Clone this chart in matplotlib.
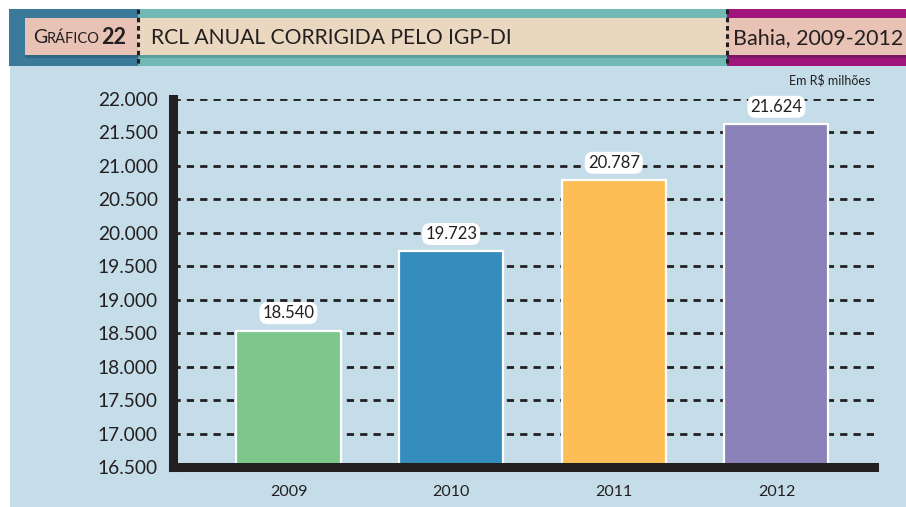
import matplotlib
matplotlib.use('Agg')
import matplotlib.pyplot as plt
from matplotlib.patches import Rectangle

years = ['2009', '2010', '2011', '2012']
values = [18540, 19723, 20787, 21624]
value_labels = ['18.540', '19.723', '20.787', '21.624']
bar_colors = ['#7dc78c', '#358dbd', '#fdbe55', '#8c82ba']
yticks = [16500, 17000, 17500, 18000, 18500, 19000, 19500, 20000, 20500, 21000, 21500, 22000]
ytick_labels = ['16.500', '17.000', '17.500', '18.000', '18.500', '19.000',
                '19.500', '20.000', '20.500', '21.000', '21.500', '22.000']

W, H = 906, 507
plt.rcParams['font.family'] = ['Lato', 'DejaVu Sans']
fig = plt.figure(figsize=(W / 100, H / 100), dpi=100)
fig.patch.set_facecolor('white')


def box(x, y, w, h, color, z=0):
    # pixel coords, y measured from top
    fig.patches.append(Rectangle((x / W, 1 - (y + h) / H), w / W, h / H,
                                 transform=fig.transFigure, facecolor=color,
                                 edgecolor='none', zorder=z))


# background panel and header
box(10, 66, 896, 441, '#c5dde9')
box(9, 9, 129, 57, '#3c7a9a')
box(138, 9, 589, 57, '#72b8b5')
box(727, 9, 179, 57, '#a0157c')
box(25, 20, 113, 38, '#2f6784', 1)
box(25, 18, 113, 37, '#e8c2b4', 2)
box(138, 20, 589, 38, '#5a9f9d', 1)
box(138, 18, 589, 37, '#ead7bf', 2)
box(727, 20, 179, 38, '#7a1465', 1)
box(727, 18, 179, 37, '#e8c2b4', 2)

for xp in (138, 727):
    fig.add_artist(plt.Line2D([xp / W, xp / W], [1 - 9 / H, 1 - 66 / H],
                              transform=fig.transFigure, color='#231f20',
                              lw=2.2, linestyle=(0, (1.5, 1.2)), zorder=5))

fig.text(33 / W, 1 - 38 / H, 'G', fontsize=14, color='#231f20', va='center', ha='left')
fig.text(47 / W, 1 - 39 / H, 'RÁFICO', fontsize=10.5, color='#231f20', va='center', ha='left')
fig.text(101 / W, 1 - 38 / H, '22', fontsize=15.5, fontweight='bold', color='#231f20',
         va='center', ha='left')
fig.text(151 / W, 1 - 38 / H, 'RCL ANUAL CORRIGIDA PELO IGP-DI', fontsize=15.2,
         color='#231f20', va='center', ha='left')
fig.text(903 / W, 1 - 38 / H, 'Bahia, 2009-2012', fontsize=15.5,
         color='#231f20', va='center', ha='right')
fig.text(870 / W, 1 - 80 / H, 'Em R$ milhões', fontsize=9, color='#231f20',
         va='center', ha='right')

# chart axes
ax = fig.add_axes([173 / W, (H - 467) / H, (874 - 173) / W, (467 - 99) / H])
ax.set_zorder(10)
ax.set_facecolor('none')
x = list(range(len(years)))
bars = ax.bar(x, [v - 16500 for v in values], bottom=16500, width=0.64,
              color=bar_colors, edgecolor='white', linewidth=1.6, zorder=3)

for xi, v, lab in zip(x, values, value_labels):
    ax.annotate(lab, (xi, v), xytext=(0, 12.5), textcoords='offset points',
                ha='center', va='center', fontsize=12, color='#231f20', zorder=5,
                bbox=dict(boxstyle='round,pad=0.18,rounding_size=0.5',
                          fc='white', ec='none'))

ax.set_xlim(-0.71, 3.6)
ax.set_ylim(16500, 22000)
ax.set_yticks(yticks)
ax.set_yticklabels(ytick_labels)
ax.set_xticks(x)
ax.set_xticklabels(years)
ax.tick_params(axis='y', length=0, pad=11, labelsize=13.8, labelcolor='#231f20')
ax.tick_params(axis='x', length=0, pad=13, labelsize=11.5, labelcolor='#231f20')

ax.yaxis.grid(True, color='#231f20', linewidth=2.0, linestyle=(0, (2.6, 2.2)), zorder=1)
ax.set_axisbelow(True)

for s in ('top', 'right'):
    ax.spines[s].set_visible(False)
for s in ('left', 'bottom'):
    ax.spines[s].set_color('#231f20')
    ax.spines[s].set_linewidth(6.5)
    ax.spines[s].set_zorder(4)
ax.spines['left'].set_capstyle('projecting')

fig.savefig('out.png', dpi=100)
